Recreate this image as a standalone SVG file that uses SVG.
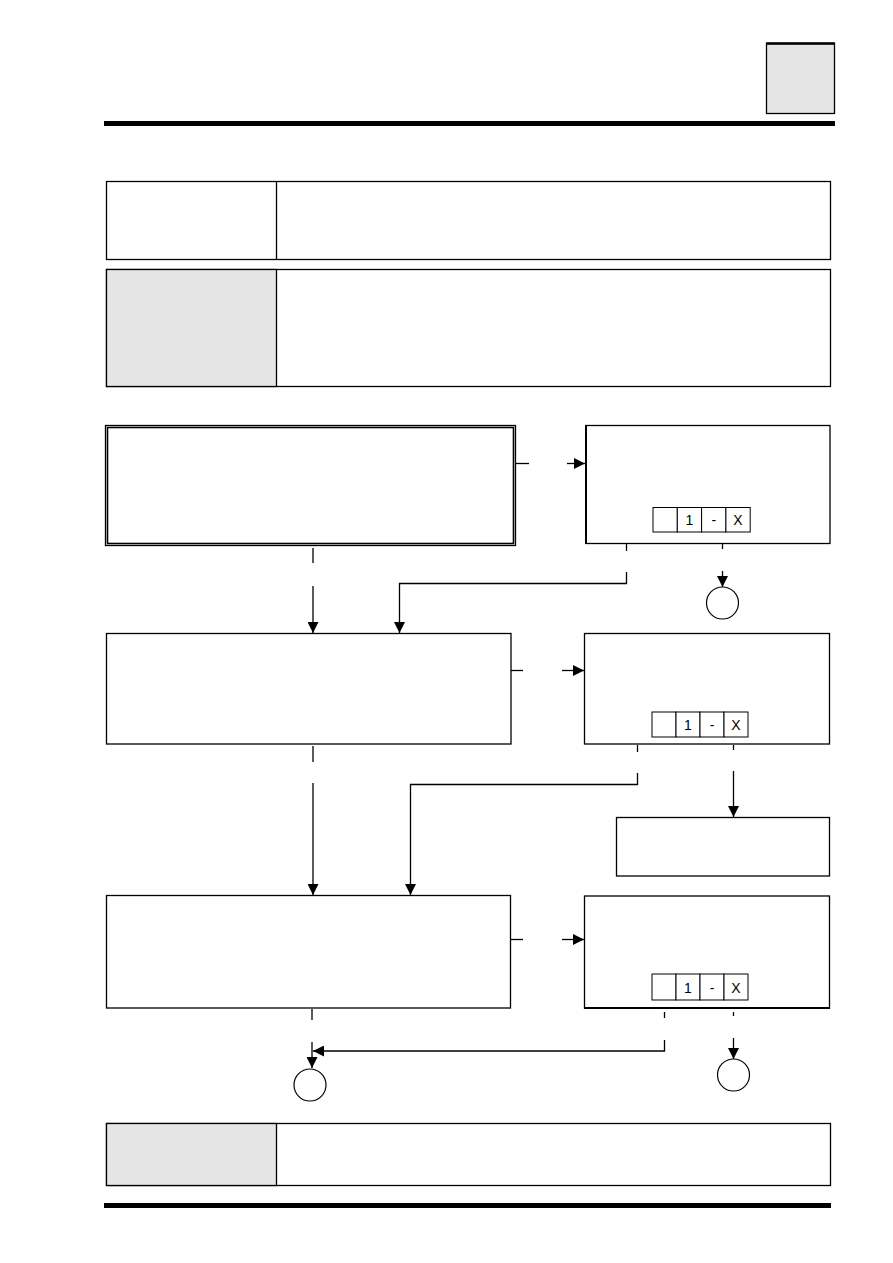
<svg xmlns="http://www.w3.org/2000/svg" width="893" height="1263" viewBox="0 0 893 1263">
<style>
.box{fill:#fff;stroke:#000;stroke-width:1.3}
.grey{fill:#e5e5e5;stroke:#000;stroke-width:1.3}
.ln{fill:none;stroke:#000;stroke-width:1.3}
.cell{fill:#fff;stroke:#000;stroke-width:1}
.ct{font-family:"Liberation Sans",Arial,sans-serif;font-size:14px;fill:#000;text-anchor:middle}
</style>
<defs>
<marker id="ah" viewBox="0 0 10 10" refX="10" refY="5" markerWidth="11" markerHeight="11" markerUnits="userSpaceOnUse" orient="auto">
<path d="M0,0 L10,5 L0,10 z" fill="#000"/>
</marker>
</defs>
<rect width="893" height="1263" fill="#fff"/>

<g id="header">
<rect class="grey" x="766.5" y="43.5" width="68" height="70"/>
<line x1="766" y1="43.5" x2="835" y2="43.5" stroke="#000" stroke-width="2.5"/>
<rect x="104" y="121" width="731" height="5" fill="#000"/>
</g>

<g id="table1">
<rect class="box" x="106.5" y="181.5" width="724" height="78"/>
<line class="ln" x1="276.5" y1="181.5" x2="276.5" y2="259.5"/>
</g>

<g id="table2">
<rect class="box" x="106.5" y="269.5" width="724" height="117"/>
<rect class="grey" x="106.5" y="269.5" width="170" height="117"/>
</g>

<g id="nodeA">
<rect class="box" x="105.5" y="425.5" width="410" height="120" stroke-width="1"/>
<rect x="107.5" y="427.5" width="406" height="116" fill="none" stroke="#000" stroke-width="1.6"/>
</g>

<g id="nodeB">
<rect class="box" x="586" y="425.5" width="244" height="118"/>
<line x1="586" y1="425" x2="586" y2="544" stroke="#000" stroke-width="2"/>
<rect class="cell" x="653" y="507.5" width="24.3" height="24.5"/>
<rect class="cell" x="677.3" y="507.5" width="24.3" height="24.5"/>
<rect class="cell" x="701.6" y="507.5" width="24.3" height="24.5"/>
<rect class="cell" x="725.9" y="507.5" width="24.3" height="24.5"/>
<text class="ct" x="689.5" y="525">1</text>
<text class="ct" x="713.8" y="525">-</text>
<text class="ct" x="738" y="525">X</text>
</g>

<g id="circle1">
<circle cx="722.5" cy="603" r="16" fill="#fff" stroke="#000" stroke-width="1.2"/>
</g>

<g id="nodeC">
<rect class="box" x="106.5" y="633.5" width="404.5" height="110.5"/>
</g>

<g id="nodeD">
<rect class="box" x="584.5" y="633.5" width="245" height="110.5"/>
<rect class="cell" x="652" y="712" width="24" height="25"/>
<rect class="cell" x="676" y="712" width="24" height="25"/>
<rect class="cell" x="700" y="712" width="24" height="25"/>
<rect class="cell" x="724" y="712" width="24" height="25"/>
<text class="ct" x="688" y="729.5">1</text>
<text class="ct" x="712" y="729.5">-</text>
<text class="ct" x="736" y="729.5">X</text>
</g>

<g id="nodeF">
<rect class="box" x="616.5" y="817.5" width="213" height="58.5"/>
</g>

<g id="nodeE">
<rect class="box" x="106.5" y="895.5" width="404" height="112.5"/>
</g>

<g id="nodeG">
<rect class="box" x="584.5" y="896" width="245" height="112"/>
<line x1="584" y1="1008" x2="830" y2="1008" stroke="#000" stroke-width="2"/>
<rect class="cell" x="652" y="974" width="24" height="26"/>
<rect class="cell" x="676" y="974" width="24" height="26"/>
<rect class="cell" x="700" y="974" width="24" height="26"/>
<rect class="cell" x="724" y="974" width="24" height="26"/>
<text class="ct" x="688" y="992.5">1</text>
<text class="ct" x="712" y="992.5">-</text>
<text class="ct" x="736" y="992.5">X</text>
</g>

<g id="circle2">
<circle cx="310" cy="1085" r="16" fill="#fff" stroke="#000" stroke-width="1.2"/>
</g>
<g id="circle3">
<circle cx="733.5" cy="1075" r="16" fill="#fff" stroke="#000" stroke-width="1.2"/>
</g>

<g id="table3">
<rect class="box" x="106.5" y="1123.5" width="724" height="62"/>
<rect class="grey" x="106.5" y="1123.5" width="170" height="62"/>
</g>
<g id="footer">
<rect x="104" y="1203" width="727" height="5" fill="#000"/>
</g>

<g id="connectors">
<line class="ln" x1="516" y1="463.5" x2="529" y2="463.5"/>
<line class="ln" x1="567" y1="463.5" x2="585" y2="463.5" marker-end="url(#ah)"/>
<line class="ln" x1="313" y1="548" x2="313" y2="563"/>
<line class="ln" x1="313" y1="586" x2="313" y2="633" marker-end="url(#ah)"/>
<line class="ln" x1="626.5" y1="544" x2="626.5" y2="551"/>
<polyline class="ln" points="626.5,572 626.5,583.5 399.5,583.5 399.5,633" marker-end="url(#ah)"/>
<line class="ln" x1="722.5" y1="544" x2="722.5" y2="549"/>
<line class="ln" x1="722.5" y1="571" x2="722.5" y2="587" marker-end="url(#ah)"/>
<line class="ln" x1="511" y1="670.5" x2="523" y2="670.5"/>
<line class="ln" x1="562" y1="670.5" x2="584" y2="670.5" marker-end="url(#ah)"/>
<line class="ln" x1="313" y1="746" x2="313" y2="762"/>
<line class="ln" x1="313" y1="783" x2="313" y2="895" marker-end="url(#ah)"/>
<line class="ln" x1="637.5" y1="745" x2="637.5" y2="752"/>
<polyline class="ln" points="637.5,773 637.5,784.5 410.5,784.5 410.5,895" marker-end="url(#ah)"/>
<line class="ln" x1="733.5" y1="745" x2="733.5" y2="750"/>
<line class="ln" x1="733.5" y1="771" x2="733.5" y2="817" marker-end="url(#ah)"/>
<line class="ln" x1="511" y1="939.5" x2="523" y2="939.5"/>
<line class="ln" x1="562" y1="939.5" x2="584" y2="939.5" marker-end="url(#ah)"/>
<line class="ln" x1="312" y1="1009" x2="312" y2="1020"/>
<line class="ln" x1="312" y1="1042" x2="312" y2="1068" marker-end="url(#ah)"/>
<line class="ln" x1="664.5" y1="1012" x2="664.5" y2="1018"/>
<polyline class="ln" points="664.5,1040 664.5,1051 313,1051" stroke-width="2" marker-end="url(#ah)"/>
<line class="ln" x1="733.5" y1="1012" x2="733.5" y2="1016"/>
<line class="ln" x1="733.5" y1="1038" x2="733.5" y2="1059" marker-end="url(#ah)"/>
</g>
</svg>
